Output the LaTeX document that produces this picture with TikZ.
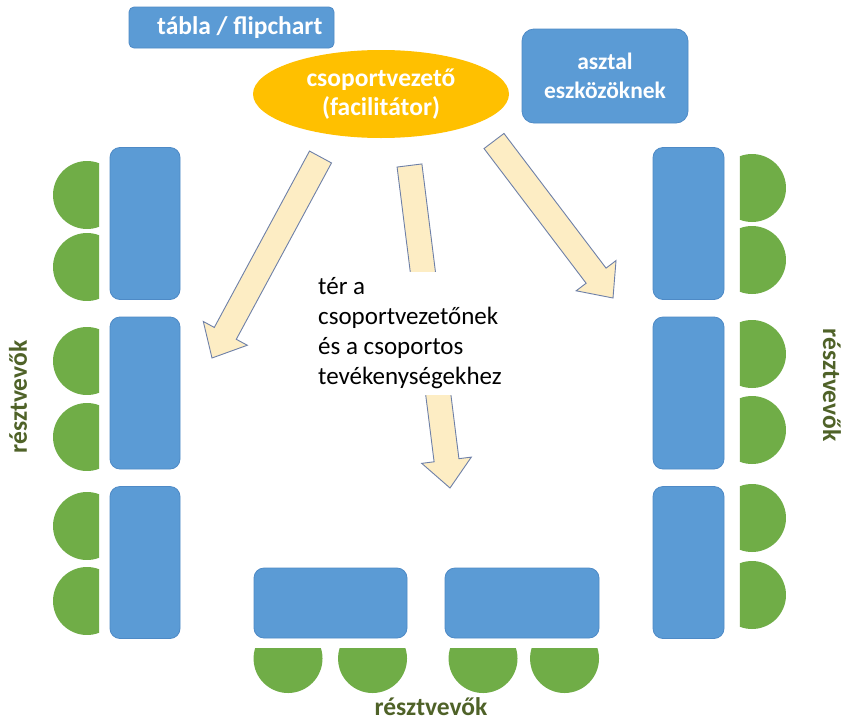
\documentclass[tikz,border=0pt]{standalone}
\usepackage{fontspec}
\setmainfont{Carlito}
\usetikzlibrary{calc,shapes.geometric}
\definecolor{tblue}{RGB}{91,155,213}
\definecolor{tblueedge}{RGB}{78,138,198}
\definecolor{cgreen}{RGB}{112,173,71}
\definecolor{lgreen}{RGB}{79,98,40}
\definecolor{gold}{RGB}{255,192,0}
\definecolor{cream}{RGB}{253,237,196}
\definecolor{aedge}{RGB}{110,128,168}
\newcommand\bkarrow[2]{%
  \coordinate (bB) at ($(#2)!28pt!(#1)$);
  \draw[blockarrow] ($(#1)!12.5pt!90:(#2)$) -- ($(bB)!12.5pt!90:(#2)$) -- ($(bB)!25pt!90:(#2)$) -- (#2)
     -- ($(bB)!25pt!-90:(#2)$) -- ($(bB)!12.5pt!-90:(#2)$) -- ($(#1)!12.5pt!-90:(#2)$) -- cycle;}
\newcommand\chairleft[2]{\fill[chair] (#1-12,#2) ++(69.3:34) arc[start angle=69.3,end angle=290.7,radius=34] -- cycle;}
\newcommand\chairright[2]{\fill[chair] (#1+12,#2) ++(-110.7:34) arc[start angle=-110.7,end angle=110.7,radius=34] -- cycle;}
\newcommand\chairdown[2]{\fill[chair] (#1,#2+10.5) ++(-17.7:34.5) arc[start angle=-17.7,end angle=197.7,radius=34.5] -- cycle;}
\begin{document}
\begin{tikzpicture}[x=1pt,y=-1pt,
  tablebox/.style={fill=tblue, draw=tblueedge, line width=0.8pt, rounded corners=10pt, inner sep=0pt},
  chair/.style={fill=cgreen},
  grouplabel/.style={text=lgreen, font=\fontsize{25.5}{28}\selectfont\bfseries, inner sep=0pt},
  whitetext/.style={text=white, font=\fontsize{25.5}{29}\selectfont\bfseries, align=center},
  blockarrow/.style={fill=cream, draw=aedge, line width=0.9pt, line join=miter},
]
\useasboundingbox[fill=white] (0,0) rectangle (851,723);

% top elements
\node[fill=tblue, draw=tblueedge, line width=0.8pt, rounded corners=5pt, minimum width=205pt, minimum height=41pt, inner sep=0pt] (board) at (231.5,27.5) {};
\node[whitetext, anchor=west, inner sep=0pt] (boardtext) at (157,27.5) {tábla / flipchart};
\node[fill=tblue, draw=tblueedge, line width=0.8pt, rounded corners=12pt, minimum width=166pt, minimum height=94pt, inner sep=0pt, whitetext, font=\fontsize{23.5}{28.5}\selectfont\bfseries] (tools) at (605,76) {asztal\\eszközöknek};
\node[ellipse, fill=gold, minimum width=256pt, minimum height=88pt, inner sep=0pt, whitetext] (leader) at (381,94) {csoportvezető\\(facilitátor)};

% arrows
\coordinate (a1t) at (320.5,157); \coordinate (a1p) at (212,358);
\coordinate (a2t) at (409.5,165.5); \coordinate (a2p) at (450,488);
\coordinate (a3t) at (494,141); \coordinate (a3p) at (613,298);
\bkarrow{a1t}{a1p}
\bkarrow{a2t}{a2p}
\bkarrow{a3t}{a3p}

\node[fill=white, anchor=west, align=left, inner xsep=6pt, inner ysep=6pt, font=\fontsize{25}{30}\selectfont] (space) at (312,333.5) {tér a\\csoportvezetőnek\\és a csoportos\\tevékenységekhez};

% left and right tables
\foreach \n/\y in {1/223.5,2/393,3/562.5}{
  \node[tablebox, minimum width=70pt, minimum height=152pt] (L\n) at (145,\y) {};
  \node[tablebox, minimum width=71pt, minimum height=152pt] (R\n) at (688.5,\y) {};
}
% bottom tables
\node[tablebox, minimum width=153pt, minimum height=70pt] (B1) at (330.5,603) {};
\node[tablebox, minimum width=154pt, minimum height=70pt] (B2) at (522,603) {};

% chairs
\foreach \y in {195,267,361,437,526,601}{\chairleft{99}{\y}}
\foreach \y in {188,260,354,430,518,595}{\chairright{740}{\y}}
\foreach \x in {288,372.5,483,564.5}{\chairdown{\x}{648}}

% labels
\node[grouplabel, rotate=90] (pl) at (18,397) {résztvevők};
\node[grouplabel, rotate=-90] (pr) at (832,385) {résztvevők};
\node[grouplabel] (pb) at (431,707) {résztvevők};
\end{tikzpicture}
\end{document}
